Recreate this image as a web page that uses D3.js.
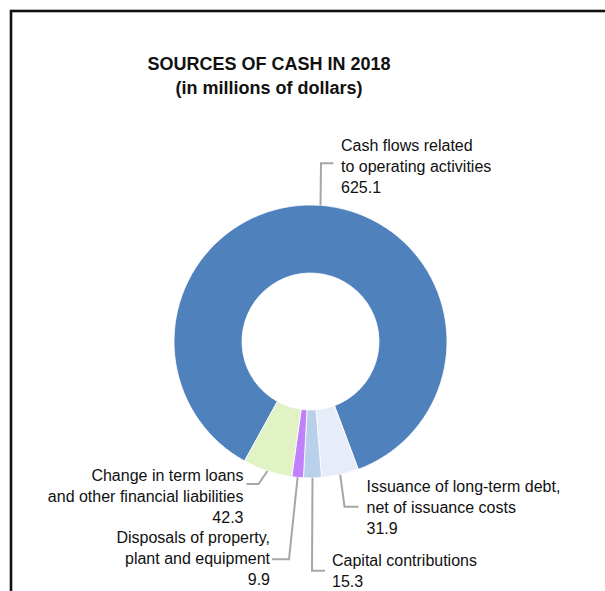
<!DOCTYPE html>
<html>
<head>
<meta charset="utf-8">
<script src="https://cdn.jsdelivr.net/npm/d3@7"></script>
<style>
  html, body { margin: 0; padding: 0; background: #fff; overflow: hidden; }
  svg { display: block; font-family: "Liberation Sans", Arial, sans-serif; }
</style>
</head>
<body>
<svg id="chart" width="605" height="591"></svg>
<script>
// Sources of cash, 2018 (millions of dollars), clockwise order
const categories = [
  "Cash flows related to operating activities",
  "Issuance of long-term debt, net of issuance costs",
  "Capital contributions",
  "Disposals of property, plant and equipment",
  "Change in term loans and other financial liabilities"
];
const values = [625.1, 31.9, 15.3, 9.9, 42.3];
const valueLabels = ["625.1", "31.9", "15.3", "9.9", "42.3"];
const labelLines = [
  ["Cash flows related", "to operating activities"],
  ["Issuance of long-term debt,", "net of issuance costs"],
  ["Capital contributions"],
  ["Disposals of property,", "plant and equipment"],
  ["Change in term loans", "and other financial liabilities"]
];
const colors = ["#4f81bd", "#e6edf9", "#b9d0eb", "#c081fb", "#e1f2c5"];

const titleLines = ["SOURCES OF CASH IN 2018", "(in millions of dollars)"];

const svg = d3.select("#chart");

// Frame (open to the right and bottom)
svg.append("rect")
  .attr("x", 11).attr("y", 11)
  .attr("width", 700).attr("height", 700)
  .attr("fill", "none")
  .attr("stroke", "#111")
  .attr("stroke-width", 2.6);

// Title
svg.append("text")
  .attr("x", 269).attr("y", 70)
  .attr("text-anchor", "middle")
  .attr("font-size", 18).attr("font-weight", "bold").attr("fill", "#111")
  .text(titleLines[0]);
svg.append("text")
  .attr("x", 269).attr("y", 94)
  .attr("text-anchor", "middle")
  .attr("font-size", 18).attr("font-weight", "bold").attr("fill", "#111")
  .text(titleLines[1]);

// Donut
const cx = 310.5, cy = 341.5, outerR = 136.5, innerR = 68.5;
const startDeg = -151.1;
const a0 = startDeg * Math.PI / 180;

const pie = d3.pie().sort(null).value(d => d)
  .startAngle(a0).endAngle(a0 + 2 * Math.PI);
const arcs = pie(values);
const arc = d3.arc().innerRadius(innerR).outerRadius(outerR);

const g = svg.append("g").attr("transform", `translate(${cx},${cy})`);
g.selectAll("path.slice")
  .data(arcs)
  .join("path")
  .attr("class", "slice")
  .attr("d", arc)
  .attr("fill", (d, i) => colors[i])
  .attr("stroke", "#fff")
  .attr("stroke-width", 0.8);

// Leader lines and labels: elbow/end points are offsets from the donut centre,
// text placement likewise; the start point sits on the outer edge at mid-angle.
const labelLayout = [
  { path: [[10.5, -178.2], [23, -178.2]], tx: 30.5, ty: -191, anchor: "start" },
  { path: [[34, 165.2], [48, 165.2]], tx: 56, ty: 150.5, anchor: "start" },
  { path: [[1.5, 229.2], [14.5, 229.2]], tx: 21.5, ty: 224.5, anchor: "start" },
  { path: [[-21.5, 217.8], [-38.5, 217.8]], tx: -40.5, ty: 201.8, anchor: "end" },
  { path: [[-52, 142.5], [-64, 142.5]], tx: -67, ty: 139.2, anchor: "end" }
];

const lineH = 21;
arcs.forEach((d, i) => {
  const mid = (d.startAngle + d.endAngle) / 2;
  const sx = Math.sin(mid) * outerR;
  const sy = -Math.cos(mid) * outerR;
  const L = labelLayout[i];
  const pts = [[sx, sy]].concat(L.path);
  g.append("path")
    .attr("d", d3.line()(pts))
    .attr("fill", "none")
    .attr("stroke", "#a6a6a6")
    .attr("stroke-width", 2);

  const lines = labelLines[i].concat([valueLabels[i]]);
  const t = g.append("text")
    .attr("text-anchor", L.anchor)
    .attr("font-size", 16)
    .attr("fill", "#111");
  lines.forEach((s, k) => {
    t.append("tspan")
      .attr("x", L.tx)
      .attr("y", L.ty + k * lineH)
      .text(s);
  });
});
</script>
</body>
</html>
